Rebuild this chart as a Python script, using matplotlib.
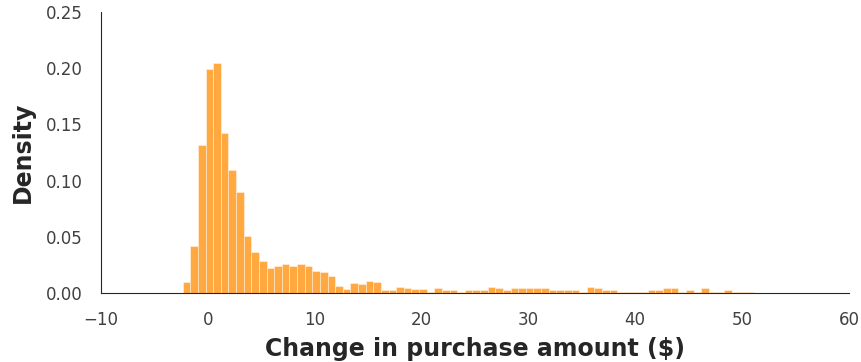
import matplotlib
matplotlib.use("Agg")
import matplotlib.pyplot as plt
import numpy as np
import seaborn as sns

# histogram of change in purchase amount, precomputed densities per bin
bin_start = -2.35
bin_end = 51.16
density = [
    0.0095, 0.042, 0.132, 0.199, 0.205, 0.142, 0.109, 0.090, 0.051, 0.0365,
    0.0288, 0.0225, 0.024, 0.0255, 0.024, 0.0256, 0.024, 0.020, 0.0184, 0.0154,
    0.0058, 0.0032, 0.009, 0.0077, 0.0105, 0.010, 0.0027, 0.0027, 0.0056, 0.0042,
    0.0033, 0.0033, 0.0012, 0.0042, 0.0027, 0.0027, 0.0012, 0.0027, 0.0027, 0.0027,
    0.0056, 0.0042, 0.0027, 0.0042, 0.0042, 0.0042, 0.0042, 0.0042, 0.0027, 0.0027,
    0.0027, 0.0027, 0.0012, 0.0056, 0.0042, 0.0027, 0.0027, 0.0012, 0.0012, 0.0012,
    0.0012, 0.0027, 0.0027, 0.0042, 0.0042, 0.0012, 0.0027, 0.0012, 0.0045, 0.0012,
    0.0012, 0.0027, 0.0005, 0.0012, 0.0012,
]
x_ticks = [-10, 0, 10, 20, 30, 40, 50, 60]
y_ticks = [0.00, 0.05, 0.10, 0.15, 0.20, 0.25]

sns.set_style("white")
plt.rcParams['font.family'] = ['DejaVu Sans']

edges = np.linspace(bin_start, bin_end, len(density) + 1)

fig = plt.figure(figsize=(8.61, 3.62), dpi=100)
ax = fig.add_axes([0.1173, 0.1906, 0.8687, 0.7763])
ax.bar(edges[:-1], density, width=np.diff(edges), align="edge",
       color="darkorange", alpha=0.75, edgecolor="white", linewidth=0.4)

ax.set_xlim(-10, 60)
ax.set_ylim(0, 0.25)
ax.set_xticks(x_ticks)
ax.set_yticks(y_ticks)
ax.set_yticklabels(["%.2f" % v for v in y_ticks])
ax.tick_params(labelsize=12, colors="0.25", pad=9.5)
ax.set_xlabel("Change in purchase amount ($)", fontsize=17, fontweight="bold",
              color=".15", labelpad=6)
ax.set_ylabel("Density", fontsize=17, fontweight="bold", color=".15", labelpad=8)
sns.despine(ax=ax)
for s in ["left", "bottom"]:
    ax.spines[s].set_color(".15")

fig.savefig("out.png", dpi=100)
